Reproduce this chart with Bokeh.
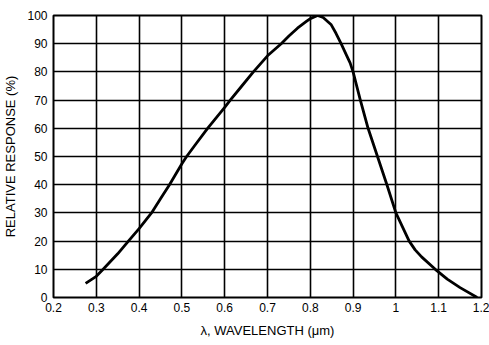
from bokeh.plotting import figure
from bokeh.models import FixedTicker, Range1d
from bokeh.embed import file_html
from bokeh.resources import INLINE

# Data
wavelength = [0.275, 0.30, 0.316, 0.35, 0.375, 0.40, 0.429, 0.45, 0.471, 0.50,
              0.511, 0.53, 0.56, 0.60, 0.613, 0.64, 0.667, 0.70, 0.732, 0.75,
              0.77, 0.79, 0.80, 0.817, 0.83, 0.849, 0.86, 0.872, 0.885, 0.893,
              0.90, 0.916, 0.935, 0.957, 0.979, 1.00, 1.031, 1.045, 1.06, 1.092,
              1.12, 1.15, 1.19]
response = [5, 7.5, 10, 15.5, 20, 24.4, 30, 35, 40, 47.4,
            50, 53.9, 60, 67.4, 70, 75, 80, 85.7, 90, 92.7,
            95.5, 97.8, 98.9, 100, 99.3, 96.7, 93.7, 90, 85.8, 83.2,
            80, 70.5, 60, 50, 40, 30, 20, 16.9, 14.4, 10,
            6.5, 3.5, 0]

x_ticks = [0.2, 0.3, 0.4, 0.5, 0.6, 0.7, 0.8, 0.9, 1.0, 1.1, 1.2]
x_tick_labels = ["0.2", "0.3", "0.4", "0.5", "0.6", "0.7", "0.8", "0.9", "1", "1.1", "1.2"]
y_ticks = [0, 10, 20, 30, 40, 50, 60, 70, 80, 90, 100]
y_tick_labels = [str(v) for v in y_ticks]

x_label = "λ, WAVELENGTH (μm)"
y_label = "RELATIVE RESPONSE (%)"

FONT = "Liberation Sans"

p = figure(width=489, height=345, output_backend="svg", toolbar_location=None,
           x_range=Range1d(0.2, 1.2), y_range=Range1d(0, 100),
           min_border_left=53, min_border_right=8, min_border_top=15, min_border_bottom=48)

p.background_fill_color = "white"
p.border_fill_color = "white"
p.outline_line_color = "black"
p.outline_line_width = 2

p.line(wavelength, response, line_color="black", line_width=2.8, line_join="round")

for ax, ticks, labels in ((p.xaxis[0], x_ticks, x_tick_labels), (p.yaxis[0], y_ticks, y_tick_labels)):
    ax.ticker = FixedTicker(ticks=ticks)
    ax.major_label_overrides = {t: l for t, l in zip(ticks, labels)}
    ax.major_tick_in = 0
    ax.major_tick_out = 0
    ax.minor_tick_in = 0
    ax.minor_tick_out = 0
    ax.axis_line_color = None
    ax.major_label_text_font = FONT
    ax.major_label_text_font_size = "12px"
    ax.major_label_text_color = "black"
    ax.axis_label_text_font = FONT
    ax.axis_label_text_font_size = "13px"
    ax.axis_label_text_font_style = "normal"
    ax.axis_label_text_color = "black"

p.xaxis[0].major_label_standoff = 5
p.yaxis[0].major_label_standoff = 6
p.xaxis[0].axis_label = x_label
p.yaxis[0].axis_label = y_label
p.xaxis[0].axis_label_standoff = 8
p.yaxis[0].axis_label_standoff = 6

for g in (p.xgrid[0], p.ygrid[0]):
    g.grid_line_color = "black"
    g.grid_line_width = 1.6
    g.grid_line_alpha = 1.0

open("out.html", "w").write(file_html(p, INLINE))
